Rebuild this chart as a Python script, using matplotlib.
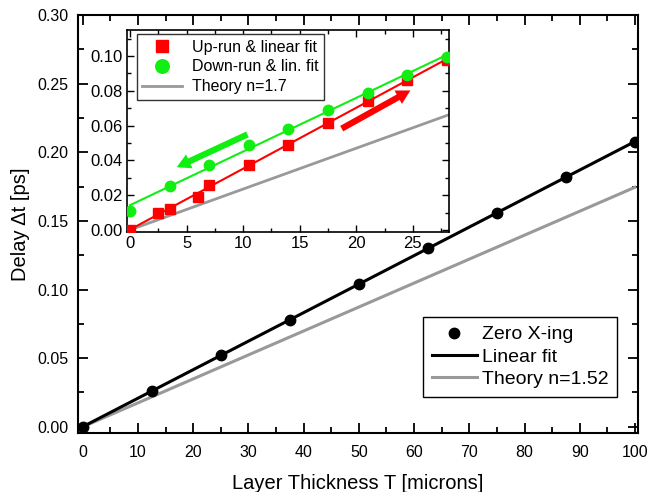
import numpy as np
import matplotlib
matplotlib.use("Agg")
import matplotlib.pyplot as plt
from matplotlib.ticker import MultipleLocator

plt.rcParams['font.family'] = ['Liberation Sans', 'DejaVu Sans']

# main plot: zero crossings vs layer thickness
T_main = [0, 12.5, 25, 37.5, 50, 62.5, 75, 87.5, 100]
dt_main = [0.0, 0.026, 0.052, 0.078, 0.104, 0.130, 0.156, 0.182, 0.2075]
theory_main_x = [0, 100]
theory_main_y = [0.0, 0.1745]

# inset: up-run and down-run
T_up = [0, 2.5, 3.5, 6, 7, 10.5, 14, 17.5, 21, 24.5, 28]
dt_up = [0.0, 0.0100, 0.0119, 0.0192, 0.0259, 0.0374, 0.0489, 0.0617, 0.0743, 0.0862, 0.0977]
T_down = [0, 3.5, 7, 10.5, 14, 17.5, 21, 24.5, 28]
dt_down = [0.0109, 0.0255, 0.0374, 0.0489, 0.0580, 0.0688, 0.0789, 0.0889, 0.0996]
theory_in_x = [0, 28.3]
theory_in_y = [0.0, 0.0665]

red = '#ff0000'
green = '#11ee11'
grey = '#999999'

fig = plt.figure(figsize=(6.49, 4.92), dpi=100)
ax = fig.add_axes([0.120, 0.120, 0.863, 0.8495])

# linear fit through zero crossings
p = np.polyfit(T_main, dt_main, 1)
xf = np.array([0, 100])
ax.plot(theory_main_x, theory_main_y, color=grey, lw=2.2, label='Theory n=1.52', zorder=2)
ax.plot(xf, np.polyval(p, xf), color='black', lw=2.2, label='Linear fit', zorder=3)
ax.plot(T_main, dt_main, 'o', color='black', ms=7.5, label='Zero X-ing', zorder=4)

ax.set_xlim(-0.9, 100.55)
ax.set_ylim(-0.0045, 0.30)
ax.xaxis.set_major_locator(MultipleLocator(10))
ax.xaxis.set_minor_locator(MultipleLocator(5))
ax.yaxis.set_major_locator(MultipleLocator(0.05))
ax.yaxis.set_minor_locator(MultipleLocator(0.025))
ax.yaxis.set_major_formatter(matplotlib.ticker.FormatStrFormatter('%.2f'))
ax.tick_params(which='both', direction='in', top=True, right=True, labelsize=11.5, width=1.3, pad=7)
ax.tick_params(axis='x', pad=9)
ax.tick_params(which='major', length=7)
ax.tick_params(which='minor', length=4)
for s in ax.spines.values():
    s.set_linewidth(1.5)
ax.set_xlabel('Layer Thickness T [microns]', fontsize=14.5, labelpad=10)
ax.set_ylabel('Delay \u0394t [ps]', fontsize=14.5, labelpad=5)

h, l = ax.get_legend_handles_labels()
order = [2, 1, 0]
leg = ax.legend([h[i] for i in order], [l[i] for i in order], loc='lower right',
                bbox_to_anchor=(0.9625, 0.086), borderaxespad=0, fontsize=14, fancybox=False,
                edgecolor='black', framealpha=1, handlelength=2.3, handletextpad=0.25,
                borderpad=0.45, labelspacing=0.25)
leg.get_frame().set_linewidth(1.0)

# inset
ins = fig.add_axes([0.1957, 0.5285, 0.4961, 0.4105])
pu = np.polyfit(T_up, dt_up, 1)
pd = np.polyfit(T_down, dt_down, 1)
xi = np.array([0, 28.3])
ins.plot(theory_in_x, theory_in_y, color=grey, lw=2.0, label='Theory n=1.7', zorder=2)
ins.plot(xi, np.polyval(pu, xi), color=red, lw=1.5, zorder=3)
ins.plot(xi, np.polyval(pd, xi), color=green, lw=1.5, zorder=3)
ins.plot(T_up, dt_up, 's', color=red, ms=7, label='Up-run & linear fit', zorder=4)
ins.plot(T_down, dt_down, 'o', color=green, ms=7.5, label='Down-run & lin. fit', zorder=4)

arrow = 'simple,head_length=1.0,head_width=1.1,tail_width=0.45'
ins.annotate('', xy=(25.0, 0.081), xytext=(18.5, 0.0575),
             arrowprops=dict(arrowstyle=arrow, color=red, lw=0))
ins.annotate('', xy=(3.9, 0.0354), xytext=(10.6, 0.0556),
             arrowprops=dict(arrowstyle=arrow, color=green, lw=0))

ins.set_xlim(-0.27, 28.2)
ins.set_ylim(-0.0012, 0.115)
ins.xaxis.set_major_locator(MultipleLocator(5))
ins.xaxis.set_minor_locator(MultipleLocator(2.5))
ins.yaxis.set_major_locator(MultipleLocator(0.02))
ins.yaxis.set_minor_locator(MultipleLocator(0.01))
ins.yaxis.set_major_formatter(matplotlib.ticker.FormatStrFormatter('%.2f'))
ins.tick_params(which='both', direction='in', top=True, right=True, labelsize=12, width=1.0, pad=3)
ins.tick_params(which='major', length=5)
ins.tick_params(which='minor', length=3)
for s in ins.spines.values():
    s.set_linewidth(1.2)

h, l = ins.get_legend_handles_labels()
order = [1, 2, 0]
leg2 = ins.legend([h[i] for i in order], [l[i] for i in order], loc='upper left',
                  bbox_to_anchor=(0.03, 0.98), borderaxespad=0, fontsize=11.5, fancybox=False,
                  edgecolor='#333333', framealpha=1, handlelength=2.5, handletextpad=0.6,
                  borderpad=0.35, labelspacing=0.3, markerscale=1.3)
leg2.get_frame().set_linewidth(1.0)

fig.savefig('out.png', dpi=100)
